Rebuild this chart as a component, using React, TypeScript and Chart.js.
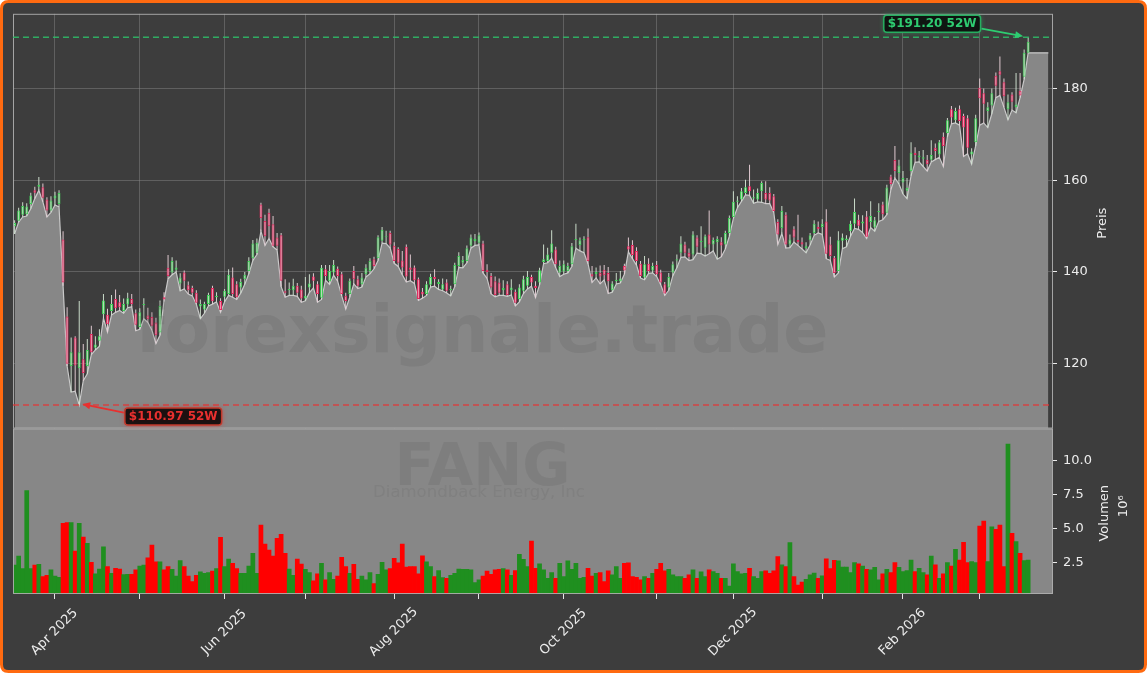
import React, { useEffect, useRef } from 'react';
import { Chart, registerables } from 'chart.js';

Chart.register(...registerables);

// ---------- data (trading days 2025-03-18 .. 2026-03-18) ----------
const opens = [
  150.0,151.2,152.5,152.6,154.8,157.8,158.6,158.5,155.8,153.4,
  156.0,154.8,147.1,130.3,119.5,125.7,119.0,121.0,119.5,126.5,
  123.5,125.0,130.8,130.7,131.5,134.1,133.4,131.5,132.9,134.1,
  131.0,128.0,132.8,130.5,130.2,129.0,126.8,134.5,140.9,139.9,
  140.5,137.5,139.9,137.1,136.5,135.5,132.5,131.8,133.0,136.5,
  134.5,133.7,134.6,135.2,138.8,137.3,136.6,138.4,140.2,143.0,
  144.2,154.7,151.1,152.9,150.4,147.5,148.0,135.8,136.0,136.0,
  137.0,136.2,134.2,136.6,139.0,137.3,134.4,140.6,138.0,139.9,
  140.7,139.5,134.8,135.2,140.2,138.4,137.3,139.5,140.2,142.8,
  143.0,146.8,147.6,148.5,145.7,145.0,142.5,145.5,141.0,141.0,
  138.4,135.7,135.2,137.2,138.9,137.4,136.2,137.7,136.0,137.3,
  141.3,142.0,142.4,145.7,146.7,146.4,146.2,140.5,139.1,138.0,
  137.7,136.0,137.3,136.0,135.7,134.1,135.9,137.0,138.9,137.0,
  137.7,142.2,142.4,144.2,144.9,139.9,140.1,140.2,141.7,147.0,
  145.9,147.0,147.6,139.5,139.5,139.8,140.5,139.8,136.0,138.0,
  138.0,141.3,145.6,145.9,144.6,141.8,138.8,141.8,140.3,141.5,
  139.9,137.3,136.6,139.9,142.5,144.2,146.0,144.2,143.8,147.5,
  146.5,145.3,148.2,146.0,146.5,146.5,146.0,148.5,152.0,155.3,
  155.8,157.2,158.7,156.0,155.8,157.6,157.2,157.2,156.5,150.9,
  149.6,152.5,146.0,149.3,147.0,146.5,145.2,146.9,148.5,149.8,
  149.8,151.0,146.0,143.1,140.2,146.8,147.0,148.9,150.5,151.4,
  150.6,152.1,150.9,149.7,153.0,154.7,152.9,160.8,164.4,161.6,
  159.5,157.7,162.0,166.0,165.0,164.7,164.5,164.5,167.1,165.6,
  169.5,170.3,175.5,173.1,175.5,174.0,173.5,165.6,168.3,180.2,
  179.0,175.1,176.3,182.8,183.8,181.4,175.5,178.7,176.0,179.5,
  182.6,187.8
];
const highs = [
  151.3,154.0,155.2,155.0,157.3,158.6,160.7,159.3,156.3,156.5,
  157.5,157.8,148.9,132.3,125.7,126.0,133.7,124.3,125.4,128.3,
  126.0,127.5,135.2,132.0,135.0,136.2,135.0,134.2,135.5,135.2,
  131.8,132.1,134.3,132.2,131.2,130.0,133.8,135.6,143.7,143.2,
  142.5,139.7,140.3,137.9,137.0,136.0,134.0,133.5,135.5,137.0,
  135.6,134.3,136.3,140.6,141.0,138.0,138.5,140.0,143.2,147.0,
  147.3,155.1,152.5,153.8,152.2,148.5,148.5,138.4,137.7,138.5,
  137.6,137.0,138.9,139.5,139.7,138.0,141.5,141.5,141.5,142.6,
  141.2,140.0,135.5,138.6,141.3,139.2,139.8,141.7,143.0,143.3,
  148.0,149.8,149.0,149.0,146.5,145.4,144.6,146.0,143.8,141.4,
  138.8,136.5,138.0,139.6,140.6,138.4,138.6,138.4,137.0,142.0,
  144.3,143.5,145.8,148.2,148.3,148.6,146.8,141.7,139.8,139.0,
  138.6,138.2,138.0,138.4,136.2,137.3,139.2,140.2,139.4,138.0,
  140.9,146.0,145.3,149.1,145.5,142.5,142.5,142.0,146.3,150.5,
  147.5,147.8,149.5,141.3,141.0,141.4,141.5,141.1,138.0,139.8,
  140.2,141.8,147.5,146.9,145.4,142.4,143.5,143.0,142.0,142.4,
  140.5,137.8,139.8,142.3,143.8,147.8,146.6,145.1,148.9,148.0,
  150.0,148.2,153.4,147.5,147.8,147.6,149.0,152.3,157.6,156.5,
  158.3,160.1,163.4,158.0,158.2,159.8,159.8,158.5,157.0,151.5,
  154.4,153.0,148.2,150.0,152.5,147.5,146.5,148.5,151.3,151.0,
  151.5,153.7,147.7,143.5,148.9,148.4,148.0,151.2,156.0,152.5,
  152.4,153.3,155.4,152.0,155.0,155.3,159.0,161.2,167.5,164.5,
  162.0,160.5,168.3,167.2,166.4,166.6,165.5,168.7,168.0,168.8,
  170.4,173.6,176.2,175.8,176.3,174.5,174.2,167.0,174.3,182.2,
  180.0,177.0,180.0,183.5,187.0,182.2,178.7,179.2,183.4,183.4,
  188.5,191.2
];
const lows = [
  148.3,150.9,152.0,152.2,153.8,156.0,157.8,155.3,152.0,153.0,
  154.6,154.2,137.0,119.5,113.8,114.0,110.97,116.3,117.8,122.0,
  123.0,123.8,129.9,126.9,130.6,131.2,131.6,131.0,132.2,132.4,
  127.2,127.5,129.8,129.0,127.3,124.4,126.2,133.8,138.5,139.4,
  140.0,135.9,136.3,135.2,134.8,133.0,129.8,131.0,132.6,133.0,
  133.5,131.2,133.5,134.9,134.5,134.0,135.4,137.3,139.6,142.5,
  143.8,148.9,145.8,147.3,145.5,144.8,136.8,134.5,134.9,134.9,
  134.7,133.4,133.7,135.5,136.5,133.4,134.0,138.2,137.3,139.3,
  138.0,134.8,131.9,134.5,137.4,136.4,136.7,138.9,139.6,140.7,
  142.5,146.3,146.2,145.2,141.9,141.2,139.4,137.8,138.1,137.5,
  133.8,134.3,134.9,136.7,136.9,136.2,135.9,135.4,134.8,136.8,
  141.0,140.9,142.0,145.2,145.8,145.9,139.8,138.6,135.2,134.6,
  134.9,134.9,134.7,135.0,132.6,133.5,135.3,136.3,136.9,134.4,
  137.2,141.8,142.0,143.0,140.9,139.0,139.5,139.8,141.2,145.2,
  144.6,144.2,141.8,137.7,138.7,137.4,138.3,135.3,135.6,137.4,
  137.6,139.5,144.4,142.9,141.5,138.7,138.3,139.7,139.8,139.0,
  137.2,134.9,136.0,139.2,140.9,143.2,143.3,142.5,142.7,144.1,
  144.0,143.5,144.0,144.6,142.8,143.3,145.0,147.8,151.7,154.0,
  155.4,156.8,156.7,155.0,155.3,155.2,154.9,154.9,153.0,146.0,
  148.4,145.2,145.3,146.5,145.8,145.0,144.2,145.9,148.0,148.5,
  148.2,142.9,142.5,138.9,139.8,145.1,145.5,147.8,149.5,149.3,
  148.6,147.3,149.7,148.9,151.0,151.4,152.5,158.0,160.5,159.2,
  157.0,156.0,161.0,163.9,164.0,163.0,162.0,164.0,164.5,165.0,
  163.0,169.5,172.3,172.5,172.0,165.2,165.8,163.5,167.5,172.0,
  172.5,171.5,174.5,178.0,178.5,175.9,173.2,175.3,174.7,178.0,
  182.0,187.8
];
const closes = [
  150.7,153.4,154.4,154.3,156.7,157.3,159.0,156.2,153.4,155.6,
  156.7,157.2,137.7,120.0,122.5,119.6,122.5,118.0,123.0,122.5,
  124.2,126.0,133.8,128.6,133.0,132.1,132.3,133.0,134.3,133.0,
  128.5,131.2,133.0,129.7,128.3,126.2,132.6,134.0,139.1,142.4,
  141.0,138.8,138.1,136.0,135.5,133.3,133.0,133.0,135.0,133.6,
  134.8,131.7,135.9,139.4,135.2,134.5,137.8,139.4,142.4,146.2,
  146.4,151.8,147.8,150.0,145.7,145.7,138.1,135.5,136.3,137.0,
  135.5,134.2,134.8,137.5,138.1,135.2,140.9,139.1,140.2,141.5,
  139.1,135.2,133.7,138.1,138.4,137.0,138.8,140.9,142.4,141.3,
  147.6,149.2,147.8,146.0,142.4,142.0,141.0,139.0,140.5,138.2,
  134.1,135.1,137.3,138.9,138.4,137.8,137.3,135.9,136.3,141.5,
  143.5,142.6,145.2,147.5,147.2,148.0,140.2,140.0,136.6,135.0,
  135.5,136.5,135.0,136.6,133.3,136.6,138.4,138.9,137.7,136.5,
  140.4,142.8,143.8,146.2,141.7,141.3,141.7,141.3,145.6,147.2,
  146.9,147.1,142.4,139.0,140.0,139.0,139.3,138.0,137.5,138.3,
  138.6,140.3,144.9,143.7,142.4,139.1,141.7,140.2,141.3,139.5,
  137.7,135.3,138.9,141.7,142.8,146.2,144.2,143.3,148.2,145.5,
  146.8,147.8,146.0,147.0,147.2,145.8,148.5,151.8,155.3,155.6,
  157.6,158.5,157.6,156.3,157.2,159.4,155.8,155.6,153.3,148.2,
  153.3,146.0,147.1,147.5,146.5,146.0,145.6,148.0,150.5,149.3,
  150.5,144.0,143.5,139.8,146.9,147.5,147.3,150.5,153.1,150.1,
  151.0,147.7,152.2,151.3,153.3,152.6,158.4,159.2,162.0,163.2,
  160.5,158.3,166.0,165.5,165.4,165.0,163.5,165.5,166.4,168.3,
  167.5,173.1,173.7,175.1,172.9,171.5,167.1,166.3,173.5,177.9,
  176.7,175.9,179.0,180.6,183.0,178.3,177.0,177.1,176.5,178.5,
  187.8,190.2
];
// volume in millions
const volumes = [
  2.35,3.0,2.1,7.8,2.1,2.35,2.4,1.5,1.6,2.0,
  1.55,1.45,5.4,5.45,5.45,3.37,5.4,4.4,3.93,2.54,
  1.7,2.06,3.69,2.23,1.74,2.11,2.06,1.65,1.67,1.67,
  2.0,2.28,2.35,2.88,3.8,2.59,2.59,2.0,2.23,2.03,
  1.55,2.67,2.23,1.55,1.14,1.6,1.86,1.74,1.8,1.9,
  2.1,4.37,2.23,2.78,2.47,2.1,1.74,1.74,2.28,3.2,
  1.74,5.27,3.88,3.44,3.0,4.3,4.6,3.2,2.06,1.6,
  2.78,2.42,2.03,1.8,1.2,1.7,2.47,1.26,1.8,1.3,
  1.55,2.91,2.23,1.74,2.4,1.3,1.55,1.26,1.8,1.0,
  1.67,2.54,2.0,2.1,2.84,2.52,3.88,2.2,2.23,2.23,
  1.7,3.03,2.59,2.23,1.5,1.94,1.43,1.38,1.6,1.74,
  2.06,2.03,2.03,2.0,1.06,1.26,1.55,1.9,1.67,2.0,
  2.03,2.1,2.0,1.6,1.94,3.13,2.76,2.23,4.1,2.11,
  2.43,2.0,1.38,1.8,1.38,2.48,1.5,2.65,2.04,2.48,
  1.38,1.45,2.11,1.55,1.75,1.8,1.14,1.92,1.63,2.23,
  1.38,2.48,2.52,1.5,1.45,1.26,1.5,1.38,1.75,2.04,
  2.48,1.92,2.04,1.63,1.5,1.5,1.38,1.63,2.0,1.38,
  1.85,1.5,2.0,1.87,1.75,1.38,1.38,0.82,2.43,1.87,
  1.7,1.75,2.11,1.5,1.38,1.87,1.92,1.75,1.92,2.96,
  2.36,2.23,4.0,1.5,0.89,1.1,1.3,1.64,1.77,1.37,
  1.57,2.8,2.1,2.7,2.65,2.2,2.2,1.8,2.53,2.43,
  2.28,2.04,2.0,2.19,1.26,1.7,2.04,1.8,2.53,2.19,
  1.87,1.94,2.72,1.87,2.11,1.8,1.63,3.01,2.36,1.38,
  1.7,2.53,2.28,3.5,2.72,4.01,2.53,2.6,2.53,5.2,
  5.56,2.6,5.15,4.96,5.27,2.23,11.2,4.66,4.06,3.2,
  2.67,2.72
];

const monthTickIndex = [10, 31, 52, 72, 94, 115, 136, 159, 178, 200, 220, 239];
const monthTickLabels = ['Apr 2025', '', 'Jun 2025', '', 'Aug 2025', '', 'Oct 2025', '', 'Dec 2025', '', 'Feb 2026', ''];
const priceTicks = [120, 140, 160, 180];
const volumeTicks = [2.5, 5.0, 7.5, 10.0];

const HIGH_52W = 191.2;
const HIGH_52W_INDEX = 251;
const LOW_52W = 110.97;
const LOW_52W_INDEX = 16;
const AREA_TAIL_INDEX = 256;

const WATERMARK = 'forexsignale.trade';
const SYMBOL = 'FANG';
const COMPANY = 'Diamondback Energy, Inc';
const PRICE_TITLE = 'Preis';
const VOLUME_TITLE = 'Volumen';
const VOLUME_EXP = '10⁶';

// ---------- styles ----------
const FONT = '"DejaVu Sans", "Liberation Sans", sans-serif';
const BG = '#3d3d3d';
const PANEL_GRAY = '#878787';
const GRID = 'rgba(140,140,140,0.45)';
const TEXT = '#ececec';
const SPINE = 'rgba(175,175,175,0.9)';

function roundRectPath(ctx: CanvasRenderingContext2D, x: number, y: number, w: number, h: number, r: number) {
  ctx.beginPath();
  ctx.moveTo(x + r, y);
  ctx.lineTo(x + w - r, y);
  ctx.quadraticCurveTo(x + w, y, x + w, y + r);
  ctx.lineTo(x + w, y + h - r);
  ctx.quadraticCurveTo(x + w, y + h, x + w - r, y + h);
  ctx.lineTo(x + r, y + h);
  ctx.quadraticCurveTo(x, y + h, x, y + h - r);
  ctx.lineTo(x, y + r);
  ctx.quadraticCurveTo(x, y, x + r, y);
  ctx.closePath();
}

function drawArrow(ctx: CanvasRenderingContext2D, x1: number, y1: number, x2: number, y2: number, color: string) {
  const ang = Math.atan2(y2 - y1, x2 - x1);
  const hl = 8, hw = 3.5;
  ctx.save();
  ctx.strokeStyle = color;
  ctx.fillStyle = color;
  ctx.lineWidth = 1.8;
  ctx.beginPath();
  ctx.moveTo(x1, y1);
  ctx.lineTo(x2 - Math.cos(ang) * hl * 0.8, y2 - Math.sin(ang) * hl * 0.8);
  ctx.stroke();
  ctx.beginPath();
  ctx.moveTo(x2, y2);
  ctx.lineTo(x2 - Math.cos(ang) * hl - Math.sin(ang) * hw, y2 - Math.sin(ang) * hl + Math.cos(ang) * hw);
  ctx.lineTo(x2 - Math.cos(ang) * hl + Math.sin(ang) * hw, y2 - Math.sin(ang) * hl - Math.cos(ang) * hw);
  ctx.closePath();
  ctx.fill();
  ctx.restore();
}

function drawLabelBox(ctx: CanvasRenderingContext2D, text: string, cx: number, cy: number, textColor: string, borderColor: string, glow: string) {
  ctx.save();
  ctx.font = `bold 12px ${FONT}`;
  const w = ctx.measureText(text).width + 8;
  const h = 17;
  roundRectPath(ctx, cx - w / 2, cy - h / 2, w, h, 3);
  ctx.shadowColor = glow;
  ctx.shadowBlur = 5;
  ctx.fillStyle = 'rgba(12,12,12,0.92)';
  ctx.fill();
  ctx.shadowBlur = 0;
  ctx.lineWidth = 1.5;
  ctx.strokeStyle = borderColor;
  ctx.stroke();
  ctx.fillStyle = textColor;
  ctx.textAlign = 'center';
  ctx.textBaseline = 'middle';
  ctx.fillText(text, cx, cy + 0.5);
  ctx.restore();
  return { w, h };
}

export default function App() {
  const ref = useRef<HTMLCanvasElement>(null);

  useEffect(() => {
    document.body.style.margin = '0';
    const canvas = ref.current!;
    const idx = opens.map((_, i) => i);
    const up = idx.map(i => closes[i] >= opens[i]);

    const areaData = idx.map(i => ({ x: i, y: lows[i] }));
    areaData.push({ x: AREA_TAIL_INDEX, y: lows[lows.length - 1] });

    const decor = {
      id: 'decor',
      beforeDraw(chart: any) {
        const { ctx, width, height } = chart;
        ctx.save();
        ctx.fillStyle = '#ffffff';
        ctx.fillRect(0, 0, width, height);
        roundRectPath(ctx, 1, 1, width - 2, height - 2, 7);
        ctx.fillStyle = BG;
        ctx.fill();
        ctx.restore();
      },
      beforeDatasetsDraw(chart: any) {
        const { ctx, chartArea: a, scales } = chart;
        const yv = scales.yv;
        ctx.save();
        ctx.fillStyle = PANEL_GRAY;
        ctx.fillRect(a.left, yv.top, a.right - a.left, yv.bottom - yv.top);
        ctx.restore();
      },
      afterDatasetsDraw(chart: any) {
        const { ctx, chartArea: a, scales } = chart;
        const x = scales.x, y = scales.y, yv = scales.yv;
        ctx.save();
        // watermarks
        ctx.fillStyle = 'rgba(70,70,70,0.14)';
        ctx.textAlign = 'center';
        ctx.textBaseline = 'alphabetic';
        ctx.font = `bold 66px ${FONT}`;
        let w = ctx.measureText(WATERMARK).width;
        ctx.font = `bold ${(66 * 693) / w}px ${FONT}`;
        ctx.fillText(WATERMARK, 482, 352);
        ctx.fillStyle = 'rgba(70,70,70,0.13)';
        ctx.font = `bold 60px ${FONT}`;
        w = ctx.measureText(SYMBOL).width;
        ctx.font = `bold ${(60 * 176) / w}px ${FONT}`;
        ctx.fillText(SYMBOL, 482.5, 485);
        ctx.fillStyle = 'rgba(70,70,70,0.11)';
        ctx.font = `16px ${FONT}`;
        w = ctx.measureText(COMPANY).width;
        ctx.font = `${(16 * 212) / w}px ${FONT}`;
        ctx.fillText(COMPANY, 479, 497);

        // spines
        ctx.strokeStyle = SPINE;
        ctx.lineWidth = 1;
        ctx.strokeRect(a.left + 0.5, y.top + 0.5, a.right - a.left - 1, y.bottom - y.top - 1);
        ctx.strokeRect(a.left + 0.5, yv.top + 0.5, a.right - a.left - 1, yv.bottom - yv.top - 1);

        // 52W lines
        const yHi = y.getPixelForValue(HIGH_52W);
        const yLo = y.getPixelForValue(LOW_52W);
        ctx.setLineDash([6, 4]);
        ctx.lineWidth = 1.5;
        ctx.strokeStyle = 'rgba(46,190,105,0.85)';
        ctx.beginPath(); ctx.moveTo(a.left, yHi); ctx.lineTo(a.right, yHi); ctx.stroke();
        ctx.strokeStyle = 'rgba(225,55,55,0.85)';
        ctx.beginPath(); ctx.moveTo(a.left, yLo); ctx.lineTo(a.right, yLo); ctx.stroke();
        ctx.setLineDash([]);

        // high annotation
        const hx = x.getPixelForValue(HIGH_52W_INDEX);
        const gcx = hx - 96, gcy = yHi - 13.5;
        const gb = drawLabelBox(ctx, `$${HIGH_52W.toFixed(2)} 52W`, gcx, gcy, '#2ecc71', '#27ae60', 'rgba(46,204,113,0.6)');
        drawArrow(ctx, gcx + gb.w / 2 + 1, gcy + 5, hx - 5, yHi - 1, '#2ecc71');

        // low annotation
        const lx = x.getPixelForValue(LOW_52W_INDEX);
        const rcx = lx + 94, rcy = yLo + 11.5;
        const rb = drawLabelBox(ctx, `$${LOW_52W.toFixed(2)} 52W`, rcx, rcy, '#e8302f', '#c0392b', 'rgba(255,30,30,0.7)');
        drawArrow(ctx, rcx - rb.w / 2 - 1, rcy - 4, lx + 3, yLo - 1, '#e8302f');
        ctx.restore();
      },
      afterDraw(chart: any) {
        const { ctx, chartArea: a, scales, width, height } = chart;
        const x = scales.x, y = scales.y, yv = scales.yv;
        ctx.save();
        ctx.fillStyle = TEXT;
        ctx.font = `13px ${FONT}`;
        ctx.textAlign = 'center';
        ctx.textBaseline = 'middle';
        monthTickIndex.forEach((v, k) => {
          const label = monthTickLabels[k];
          if (!label) return;
          const px = x.getPixelForValue(v);
          ctx.save();
          ctx.translate(px - 0.5, a.bottom + 38);
          ctx.rotate(-Math.PI / 4);
          ctx.fillText(label, 0, 0);
          ctx.restore();
        });
        const titleText = (t: string, cx: number, cy: number) => {
          ctx.save();
          ctx.translate(cx, cy);
          ctx.rotate(-Math.PI / 2);
          ctx.fillText(t, 0, 0);
          ctx.restore();
        };
        titleText(PRICE_TITLE, 1103, (y.top + y.bottom) / 2 + 2);
        titleText(VOLUME_TITLE, 1105, (yv.top + yv.bottom) / 2 + 2);
        titleText(VOLUME_EXP, 1124, (yv.top + yv.bottom) / 2 - 5);

        // outer border
        roundRectPath(ctx, 1.5, 1.5, width - 3, height - 3, 7);
        ctx.lineWidth = 3;
        ctx.strokeStyle = '#ff6a10';
        ctx.stroke();
        ctx.restore();
      },
    };

    const chart = new Chart(canvas, {
      type: 'line',
      data: {
        datasets: [
          {
            type: 'line',
            data: areaData,
            yAxisID: 'y',
            fill: 'start',
            backgroundColor: PANEL_GRAY,
            borderColor: '#c9c9c9',
            borderWidth: 1.2,
            pointRadius: 0,
            tension: 0,
            order: 3,
          },
          {
            type: 'bar',
            data: idx.map(i => ({ x: i, y: [lows[i], highs[i]] })),
            yAxisID: 'y',
            grouped: false,
            maxBarThickness: 1,
            backgroundColor: idx.map(i => (up[i] ? 'rgba(210,228,210,0.95)' : 'rgba(232,208,215,0.95)')),
            borderWidth: 0,
            order: 2,
          },
          {
            type: 'bar',
            data: idx.map(i => ({ x: i, y: [opens[i], closes[i]] })),
            yAxisID: 'y',
            grouped: false,
            maxBarThickness: 4,
            minBarLength: 1,
            borderSkipped: false,
            borderWidth: 1,
            backgroundColor: idx.map(i => (up[i] ? '#b4dcb6' : '#f090aa')),
            borderColor: idx.map(i => (up[i] ? '#3fcf57' : '#e3295f')),
            order: 1,
          },
          {
            type: 'bar',
            data: idx.map(i => ({ x: i, y: volumes[i] })),
            yAxisID: 'yv',
            grouped: false,
            barPercentage: 1,
            categoryPercentage: 1,
            borderWidth: 0,
            backgroundColor: idx.map(i => (up[i] ? '#1f8f1f' : '#ff0000')),
            order: 4,
          },
        ] as any,
      },
      options: {
        responsive: false,
        animation: false,
        devicePixelRatio: 1,
        layout: { padding: { left: 13, top: 12, right: 0, bottom: 0 } },
        plugins: { legend: { display: false }, tooltip: { enabled: false } },
        scales: {
          x: {
            type: 'linear',
            min: -0.4,
            max: 257.15,
            offset: false,
            afterBuildTicks: (s: any) => { s.ticks = monthTickIndex.map(v => ({ value: v })); },
            afterFit: (s: any) => { s.height = 79; },
            ticks: { callback: () => '', autoSkip: false, maxRotation: 0, minRotation: 0 },
            grid: { color: GRID, lineWidth: 1, tickColor: '#e6e6e6', tickLength: 5, offset: false },
            border: { display: false },
          },
          y: {
            type: 'linear',
            position: 'right',
            stack: 'panels',
            stackWeight: 416,
            min: 105.87,
            max: 196.3,
            afterBuildTicks: (s: any) => { s.ticks = priceTicks.map(v => ({ value: v })); },
            afterFit: (s: any) => { s.width = 94; },
            ticks: { color: TEXT, font: { family: FONT, size: 13 }, padding: 6, callback: (v: any) => String(v) },
            grid: { color: GRID, tickColor: TEXT, tickLength: 4 },
            border: { display: false },
          },
          yv: {
            type: 'linear',
            position: 'right',
            stack: 'panels',
            stackWeight: 166,
            min: 0.233,
            max: 12.33,
            afterBuildTicks: (s: any) => { s.ticks = volumeTicks.map(v => ({ value: v })); },
            afterFit: (s: any) => { s.width = 94; },
            ticks: { color: TEXT, font: { family: FONT, size: 13 }, padding: 6, callback: (v: any) => Number(v).toFixed(1) },
            grid: { drawOnChartArea: false, tickColor: TEXT, tickLength: 4 },
            border: { display: false },
          },
        },
      } as any,
      plugins: [decor],
    });

    return () => chart.destroy();
  }, []);

  return <canvas ref={ref} width={1147} height={673} style={{ display: 'block' }} />;
}
